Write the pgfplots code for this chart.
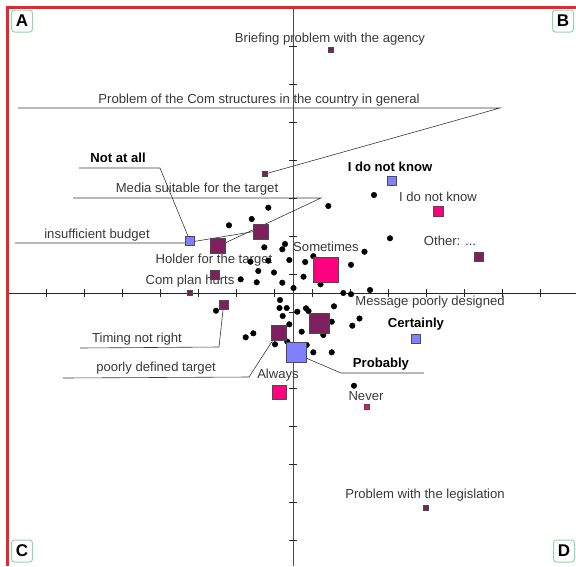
\documentclass[border=0pt]{standalone}
\usepackage{fontspec}
\setmainfont{Liberation Sans}
\usepackage{pgfplots}
\pgfplotsset{compat=1.18}
\definecolor{pur}{HTML}{7F1F5F}
\definecolor{pnk}{HTML}{FF0080}
\definecolor{blu}{HTML}{8080FF}
\definecolor{txt}{HTML}{383838}
\definecolor{frm}{HTML}{E8262C}
\definecolor{grn}{HTML}{90D8A8}
\tikzset{
  lbl/.style={font=\fontsize{13.1}{14}\selectfont, text=txt, inner sep=0pt},
  blbl/.style={font=\fontsize{13.1}{14}\selectfont\bfseries, text=black, inner sep=0pt},
  corner/.style={draw=grn, line width=1pt, rounded corners=3pt, fill=white, minimum width=21pt, minimum height=22pt, inner sep=0pt, font=\fontsize{17}{17}\selectfont\bfseries},
}
\begin{document}
\begin{tikzpicture}
\begin{axis}[
  scale only axis, width=576pt, height=566pt,
  xmin=0, xmax=576, ymin=0, ymax=566, y dir=reverse,
  axis lines=none, clip=false,
]
% frame
\draw[frm, line width=2.2pt] (axis cs:7.5,566) -- (axis cs:7.5,7.5) -- (axis cs:576,7.5);
% axes
\draw[line width=0.8pt, color=black!85] (axis cs:9,293) -- (axis cs:576,293);
\draw[line width=0.8pt, color=black!70] (axis cs:293,9) -- (axis cs:293,566);
\pgfplotsinvokeforeach{46,84,122,160,198,236,274,312,350,388,426,464,502,540}{
  \draw[line width=0.8pt, black!85] (axis cs:#1,289) -- (axis cs:#1,297);
  \draw[line width=0.8pt, black!85] (axis cs:289,#1) -- (axis cs:297,#1);
}
% leader lines
\addplot[color=txt, line width=0.6pt] coordinates {(18,108) (500,108) (265,174)};
\addplot[color=txt, line width=0.6pt] coordinates {(79,168) (160,168) (190,241)};
\addplot[color=txt, line width=0.6pt] coordinates {(73,198) (321,198) (225,243)};
\addplot[color=txt, line width=0.6pt] coordinates {(15,243) (185,243) (257,231)};
\addplot[color=txt, line width=0.6pt] coordinates {(80,348) (219,347) (223,310)};
\addplot[color=txt, line width=0.6pt] coordinates {(63,378) (249,377) (273,340)};
\addplot[color=txt, line width=0.6pt] coordinates {(306,358) (341,373) (424,373)};
% black dots
\addplot[only marks, mark=*, mark size=2.8pt, color=black] coordinates {
(268.3,207.7) (229,225.3) (251.7,219) (264.3,247.3) (285,244) (282.3,249.3)
(289.3,260) (268.3,260.7) (250.5,261.7) (258.3,271) (274,272.5) (240.7,279.3)
(256.7,282.3) (282.3,282.7) (293.5,288) (280,300)
(374,195) (328.3,206) (390,238.3) (364.5,251.7) (305.2,262) (313.3,256.2)
(351,264.8) (303.5,276.7) (320.5,284.3) (343.3,293) (351,294.2) (370,290)
(279.5,308) (286.7,308) (282.7,316) (289.3,324.3) (245.7,337.3) (253.3,333.3)
(275,344.3) (287.3,341.7) (216,310.7)
(306,308.3) (308.5,311) (334,306.3) (297.3,311.7) (359.5,318.5) (352.3,325.7)
(331.7,321.7) (323.3,335) (301.7,331.7) (306.7,345) (313.3,352.3) (331.7,352.3)
(354,385.7)
};
% purple squares
\addplot[only marks, mark=square*, mark size=2.5pt, mark options={fill=pur, draw=black!70, line width=0.5pt}] coordinates {(331,50) (265,174) (190,293) (426,508)};
\addplot[only marks, mark=square*, mark size=4.7pt, mark options={fill=pur, draw=black!70, line width=0.5pt}] coordinates {(215,275) (224,305) (479,257)};
\addplot[only marks, mark=square*, mark size=7.3pt, mark options={fill=pur, draw=black!70, line width=0.5pt}] coordinates {(218,246) (261,231.5) (279,333)};
\addplot[only marks, mark=square*, mark size=10pt, mark options={fill=pur, draw=black!70, line width=0.5pt}] coordinates {(319,323)};
% pink squares
\addplot[only marks, mark=square*, mark size=2.5pt, mark options={fill=pnk, draw=black!70, line width=0.5pt}] coordinates {(366.7,407)};
\addplot[only marks, mark=square*, mark size=5pt, mark options={fill=pnk, draw=black!70, line width=0.5pt}] coordinates {(438.5,211.5)};
\addplot[only marks, mark=square*, mark size=7pt, mark options={fill=pnk, draw=black!70, line width=0.5pt}] coordinates {(279,392)};
\addplot[only marks, mark=square*, mark size=12.5pt, mark options={fill=pnk, draw=black!70, line width=0.5pt}] coordinates {(326,270)};
% blue squares
\addplot[only marks, mark=square*, mark size=4.7pt, mark options={fill=blu, draw=black!70, line width=0.5pt}] coordinates {(190,241) (392,181) (416,339)};
\addplot[only marks, mark=square*, mark size=10pt, mark options={fill=blu, draw=black!70, line width=0.5pt}] coordinates {(296,352.5)};
% labels
\node[lbl] at (axis cs:330,39) {Briefing problem with the agency};
\node[lbl] at (axis cs:259,100) {Problem of the Com structures in the country in general};
\node[blbl] at (axis cs:118,158) {Not at all};
\node[lbl] at (axis cs:197,189) {Media suitable for the target};
\node[lbl] at (axis cs:97,235) {insufficient budget};
\node[blbl] at (axis cs:390,167) {I do not know};
\node[lbl] at (axis cs:438,197) {I do not know};
\node[lbl] at (axis cs:450,241) {Other: ...};
\node[lbl] at (axis cs:326,247) {Sometimes};
\node[lbl] at (axis cs:214,260) {Holder for the target};
\node[lbl] at (axis cs:190,281) {Com plan hurts};
\node[lbl] at (axis cs:430,302) {Message poorly designed};
\node[blbl] at (axis cs:416,324) {Certainly};
\node[lbl] at (axis cs:137,339) {Timing not right};
\node[blbl] at (axis cs:381,364) {Probably};
\node[lbl] at (axis cs:156,368) {poorly defined target};
\node[lbl] at (axis cs:278,375) {Always};
\node[lbl] at (axis cs:366,396) {Never};
\node[lbl] at (axis cs:425,495) {Problem with the legislation};
% corners
\node[corner] at (axis cs:22,21) {A};
\node[corner] at (axis cs:563,21) {B};
\node[corner] at (axis cs:22,551) {C};
\node[corner] at (axis cs:564,551) {D};
\end{axis}
\pgfresetboundingbox
\useasboundingbox (0,0) rectangle (576pt,566pt);
\end{tikzpicture}
\end{document}
